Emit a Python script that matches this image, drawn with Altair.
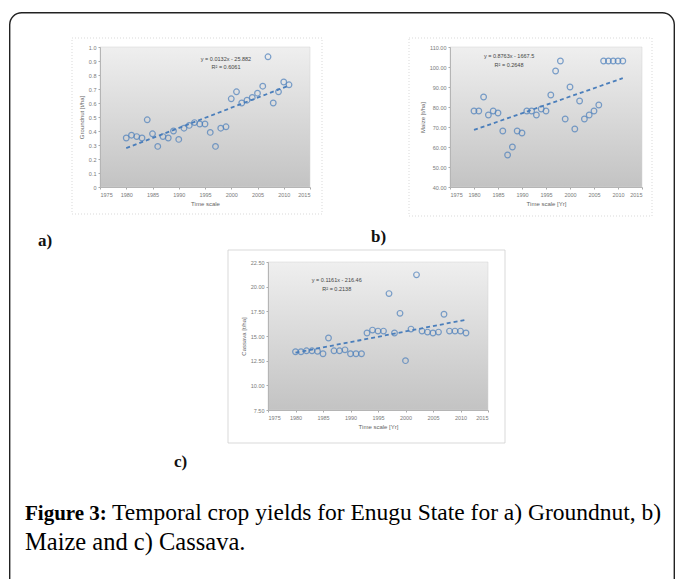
import altair as alt
import pandas as pd

# ---------------- data ----------------
years = list(range(1980, 2012))
groundnut = [0.35, 0.37, 0.36, 0.35, 0.48, 0.38, 0.29, 0.36, 0.35, 0.40,
             0.34, 0.42, 0.44, 0.46, 0.45, 0.45, 0.39, 0.29, 0.42, 0.43,
             0.63, 0.68, 0.60, 0.62, 0.64, 0.67, 0.72, 0.93, 0.60, 0.68,
             0.75, 0.73]
maize = [78, 78, 85, 76, 78, 77, 68, 56, 60, 68,
         67, 78, 78, 76, 79, 78, 86, 98, 103, 74,
         90, 69, 83, 74, 76, 78, 81, 103, 103, 103,
         103, 103]
cassava = [13.4, 13.4, 13.5, 13.5, 13.45, 13.2, 14.8, 13.5, 13.5, 13.6,
           13.2, 13.2, 13.2, 15.3, 15.6, 15.5, 15.5, 19.3, 15.3, 17.3,
           12.5, 15.7, 21.2, 15.5, 15.4, 15.3, 15.4, 17.2, 15.5, 15.5,
           15.5, 15.3]

x_ticks = [1975, 1980, 1985, 1990, 1995, 2000, 2005, 2010, 2015]
ga_ticks = [round(i * 0.1, 1) for i in range(11)]
mz_ticks = [40, 50, 60, 70, 80, 90, 100, 110]
cs_ticks = [7.5, 10, 12.5, 15, 17.5, 20, 22.5]

eq_a = ["y = 0.0132x - 25.882", "R² = 0.6061"]
eq_b = ["y = 0.8763x - 1667.5", "R² = 0.2648"]
eq_c = ["y = 0.1161x - 216.46", "R² = 0.2138"]

caption_bold = "Figure 3:"
caption_line1 = "Temporal crop yields for Enugu State for a) Groundnut, b)"
caption_line2 = "Maize and c) Cassava."

# ---------------- layout ----------------
W, H = 666, 567
OX, OY = 9, 12          # page position of the view origin


def px(x):
    return x - OX


def py(y):
    return y - OY


BLUE = "#4a7ebb"
LBL = "#7a7a7a"
FONT = "Liberation Sans"
GRAD = {"gradient": "linear", "x1": 0, "x2": 0, "y1": 0, "y2": 1,
        "stops": [{"offset": 0, "color": "#efefef"},
                  {"offset": 1, "color": "#c3c3c3"}]}


def panel(values, field, box, ydom, yticks, yfmt, ytitle, xtitle, eq, eq_pos):
    left, top, right, bottom = box
    df = pd.DataFrame({"year": years, field: values})

    def xs():
        return alt.Scale(domain=[1975, 2015], range=[px(left), px(right)], nice=False, zero=False)

    def ys():
        return alt.Scale(domain=ydom, range=[py(bottom), py(top)], nice=False, zero=False)

    xa = alt.Axis(values=x_ticks, format="d", orient="bottom", offset=py(bottom) - H,
                  title=xtitle, grid=False, labelFontSize=5.5, titleFontSize=6,
                  labelColor=LBL, titleColor="#666", labelFont=FONT, titleFont=FONT,
                  titleFontWeight="normal", tickSize=2, tickColor="#aaa",
                  domainColor="#b5b5b5", labelPadding=3, titlePadding=3, zindex=2)
    ya = alt.Axis(values=yticks, orient="left", offset=-px(left), title=ytitle,
                  labelExpr=yfmt, grid=False, labelFontSize=5.5, titleFontSize=6,
                  labelColor=LBL, titleColor="#666", labelFont=FONT, titleFont=FONT,
                  titleFontWeight="normal", tickSize=2, tickColor="#aaa",
                  domainColor="#b5b5b5", labelPadding=2, titlePadding=4, zindex=2)

    bg_df = pd.DataFrame({"x0": [1975], "x1": [2015], "y0": [ydom[0]], "y1": [ydom[1]]})
    bg = alt.Chart(bg_df).mark_rect(fill=GRAD, stroke="#d0d0d0", strokeWidth=0.5).encode(
        x=alt.X("x0:Q", scale=xs(), axis=xa),
        x2="x1:Q",
        y=alt.Y("y0:Q", scale=ys(), axis=ya),
        y2="y1:Q",
    )
    pts = alt.Chart(df).mark_point(shape="circle", filled=False, size=32,
                                   strokeWidth=1.2, color=BLUE).encode(
        x=alt.X("year:Q", scale=xs(), axis=None),
        y=alt.Y(f"{field}:Q", scale=ys(), axis=None),
    )
    trend = alt.Chart(df).transform_regression("year", field).mark_line(
        color=BLUE, strokeWidth=1.8, strokeDash=[4, 3]).encode(
        x=alt.X("year:Q", scale=xs(), axis=None),
        y=alt.Y(f"{field}:Q", scale=ys(), axis=None),
    )
    eq_df = pd.DataFrame({"ex": [eq_pos[0], eq_pos[0]], "ey": [eq_pos[1], eq_pos[2]], "t": eq})
    eqt = alt.Chart(eq_df).mark_text(fontSize=5.5, color="#444", font=FONT).encode(
        x=alt.X("ex:Q", scale=xs(), axis=None),
        y=alt.Y("ey:Q", scale=ys(), axis=None),
        text="t:N",
    )
    return [bg, trend, pts, eqt]


pa = panel(groundnut, "groundnut", (100, 47, 310, 187), [0, 1.0], ga_ticks,
           "datum.value == 0 ? '0' : format(datum.value, '.1f')",
           "Groundnut [t/ha]", "Time scale", eq_a, (1999, 0.915, 0.86))
pb = panel(maize, "maize", (450, 47, 642, 187), [40, 110], mz_ticks,
           "format(datum.value, '.2f')",
           "Maize [t/ha]", "Time scale [Yr]", eq_b, (1987.3, 105.5, 101.2))
pc = panel(cassava, "cassava", (268, 262, 488, 410), [7.5, 22.5], cs_ticks,
           "format(datum.value, '.2f')",
           "Cassava [t/ha]", "Time scale [Yr]", eq_c, (1987.5, 20.7, 19.8))

one = pd.DataFrame({"k": [0]})

# outer rounded box (bottom edge falls outside the picture)
outer = alt.Chart(one).mark_rect(fill="white", stroke="#222", strokeWidth=1.4,
                                 cornerRadius=12).encode(
    x=alt.value(0.7), x2=alt.value(W - 0.7), y=alt.value(0.7), y2=alt.value(H + 40))


def frame(l, t, r, b, dash):
    m = alt.Chart(one).mark_rect(fill="white", stroke="#cfcfcf", strokeWidth=0.8,
                                 **({"strokeDash": [1, 2]} if dash else {}))
    return m.encode(x=alt.value(px(l)), x2=alt.value(px(r)),
                    y=alt.value(py(t)), y2=alt.value(py(b)))


frames = [frame(72, 38, 322, 214, True), frame(409, 38, 652, 216, True),
          frame(228, 250, 505, 443, False)]

lab_df = pd.DataFrame({"t": ["a)", "b)", "c)"],
                       "lx": [px(38), px(371), px(174)],
                       "ly": [py(246), py(242), py(467)]})
labels = [alt.Chart(lab_df.iloc[[i]]).mark_text(
    fontSize=17, font="Liberation Serif", fontWeight="bold", align="left",
    baseline="alphabetic", color="#111").encode(
    text="t:N", x=alt.value(float(lab_df.lx[i])), y=alt.value(float(lab_df.ly[i])))
    for i in range(3)]

CAP = 23.5
cap = alt.Chart(pd.DataFrame({"t": [caption_bold]})).mark_text(
    fontSize=21, font="Liberation Serif", fontWeight="bold", align="left",
    baseline="alphabetic", color="#000").encode(
    text="t:N", x=alt.value(px(25)), y=alt.value(py(520)))
cap1 = alt.Chart(pd.DataFrame({"t": [caption_line1]})).mark_text(
    fontSize=CAP, font="Liberation Serif", align="left",
    baseline="alphabetic", color="#000").encode(
    text="t:N", x=alt.value(px(112)), y=alt.value(py(520)))
cap2 = alt.Chart(pd.DataFrame({"t": [caption_line2]})).mark_text(
    fontSize=24.5, font="Liberation Serif", align="left",
    baseline="alphabetic", color="#000").encode(
    text="t:N", x=alt.value(px(25)), y=alt.value(py(550)))

chart = alt.layer(outer, *frames, *pa, *pb, *pc, *labels, cap, cap1, cap2).resolve_scale(
    x="independent", y="independent"
).properties(
    width=W, height=H, autosize="none",
    padding={"left": 1, "top": 4, "right": 0, "bottom": 0},
    background="white",
).configure_view(stroke=None)

chart.save("out.html", embed_options={"renderer": "svg", "actions": False})
